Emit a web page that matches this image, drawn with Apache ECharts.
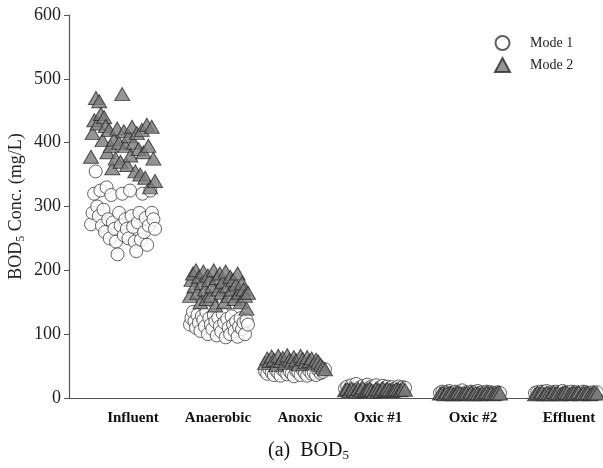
<!DOCTYPE html>
<html>
<head>
<meta charset="utf-8">
<script src="https://cdn.jsdelivr.net/npm/echarts@6/dist/echarts.min.js"></script>
<style>html,body{margin:0;padding:0;background:#fff;}#c{width:603px;height:468px;}</style>
</head>
<body>
<div id="c"></div>
<script>
const categories = ['Influent', 'Anaerobic', 'Anoxic', 'Oxic #1', 'Oxic #2', 'Effluent'];
const seriesNames = ['Mode 1', 'Mode 2'];
const yTicks = [0, 100, 200, 300, 400, 500, 600];

// Mode 1 (circles), one array per process stage, samples in plotting order
const mode1Influent = [272, 290, 320, 355, 300, 285, 325, 270, 295, 260, 330, 280, 250, 318, 275, 265, 245, 225, 290, 270, 320, 255, 280, 265, 250, 325, 285, 268, 245, 230, 275, 290, 248, 320, 260, 282, 240, 270, 325, 290, 280, 265];
const mode1Anaerobic = [115, 125, 135, 120, 110, 130, 118, 105, 128, 122, 112, 135, 100, 125, 115, 108, 130, 120, 98, 126, 112, 104, 132, 118, 95, 124, 110, 100, 128, 115, 105, 120, 96, 112, 125, 108, 118, 100, 122, 115];
const mode1Anoxic = [42, 38, 45, 40, 36, 43, 39, 35, 44, 41, 37, 42, 38, 34, 43, 40, 36, 44, 39, 35, 42, 38, 40, 36, 43, 39, 41, 45];
const mode1Oxic1 = [15, 18, 12, 20, 16, 22, 14, 17, 19, 13, 21, 16, 18, 15, 20, 14, 17, 19, 16, 18, 15, 17, 14, 16, 18, 15, 17, 16];
const mode1Oxic2 = [8, 10, 7, 9, 11, 8, 7, 10, 9, 8, 12, 7, 9, 8, 10, 7, 9, 11, 8, 9, 7, 10, 8, 9, 7, 8, 9, 8];
const mode1Effluent = [8, 9, 7, 10, 8, 11, 7, 9, 8, 10, 7, 9, 11, 8, 9, 7, 10, 8, 9, 8, 7, 10, 9, 8, 7, 9, 8, 9];

// Mode 2 (triangles)
const mode2Influent = [378, 415, 435, 470, 430, 465, 445, 404, 440, 426, 385, 420, 395, 360, 405, 375, 422, 400, 370, 476, 418, 395, 365, 410, 380, 425, 400, 355, 415, 390, 350, 420, 385, 345, 428, 395, 330, 425, 375, 340];
const mode2Anaerobic = [160, 185, 195, 175, 200, 165, 190, 150, 180, 198, 170, 155, 192, 185, 160, 175, 200, 145, 188, 170, 195, 165, 182, 150, 198, 175, 160, 190, 170, 185, 155, 178, 195, 165, 150, 180, 170, 160, 140, 165];
const mode2Anoxic = [55, 62, 58, 65, 60, 52, 66, 58, 63, 55, 67, 60, 57, 64, 59, 53, 66, 61, 56, 64, 58, 62, 54, 60, 57, 52, 48, 45];
const mode2Oxic1 = [12, 14, 11, 15, 13, 10, 14, 12, 16, 11, 13, 15, 12, 10, 14, 13, 11, 15, 12, 14, 13, 11, 12, 14, 13, 12, 15, 13];
const mode2Oxic2 = [7, 8, 6, 9, 7, 8, 6, 7, 9, 8, 6, 7, 8, 7, 9, 6, 8, 7, 6, 8, 7, 9, 7, 8, 6, 7, 8, 7];
const mode2Effluent = [6, 8, 7, 9, 6, 8, 7, 6, 9, 7, 8, 6, 7, 9, 8, 6, 7, 8, 7, 9, 6, 8, 7, 8, 6, 7, 8, 7];

const mode1 = [mode1Influent, mode1Anaerobic, mode1Anoxic, mode1Oxic1, mode1Oxic2, mode1Effluent];
const mode2 = [mode2Influent, mode2Anaerobic, mode2Anoxic, mode2Oxic1, mode2Oxic2, mode2Effluent];

// layout: horizontal spread of each stage's samples on the x axis (axis units)
const spreadStart = [22, 121, 196, 276, 371, 466];
const spreadEnd = [86, 179, 256, 336, 431, 528];
const labelPos = [64, 149, 231, 309, 404, 500];

function build(groups) {
  const out = [];
  groups.forEach((vals, c) => {
    const n = vals.length;
    vals.forEach((v, i) => {
      out.push([spreadStart[c] + i * (spreadEnd[c] - spreadStart[c]) / (n - 1), v]);
    });
  });
  return out;
}

const serif = '"Liberation Serif", "DejaVu Serif", serif';
const chart = echarts.init(document.getElementById('c'), null, { renderer: 'canvas' });
chart.setOption({
  animation: false,
  backgroundColor: '#fff',
  grid: { left: 69, right: 0, top: 15, bottom: 70, containLabel: false, outerBoundsMode: 'none' },
  title: {
    text: '{a|(a)  BOD}{s|5}',
    left: 263,
    top: 434,
    textStyle: {
      rich: {
        a: { fontFamily: serif, fontSize: 20, fontWeight: 'normal', color: '#111' },
        s: { fontFamily: serif, fontSize: 13, fontWeight: 'normal', color: '#111', verticalAlign: 'bottom', padding: [10, 0, 0, 0] }
      }
    }
  },
  legend: {
    orient: 'vertical',
    left: 489,
    top: 30,
    itemWidth: 15,
    itemHeight: 14,
    itemGap: 6,
    textStyle: { fontFamily: serif, fontSize: 14, color: '#222', padding: [0, 0, 0, 15] },
    data: seriesNames
  },
  xAxis: {
    type: 'value',
    min: 0,
    max: 534,
    splitLine: { show: false },
    axisTick: { show: false },
    axisLine: { lineStyle: { color: '#555', width: 1.2 } },
    axisLabel: {
      customValues: labelPos,
      formatter: (v) => categories[labelPos.indexOf(v)] || '',
      fontFamily: serif,
      fontWeight: 'bold',
      fontSize: 15,
      color: '#111',
      margin: 13
    }
  },
  yAxis: {
    type: 'value',
    min: yTicks[0],
    max: yTicks[yTicks.length - 1],
    interval: 100,
    splitLine: { show: false },
    axisLine: { show: true, lineStyle: { color: '#555', width: 1.2 } },
    axisTick: { show: true, inside: false, length: 5, lineStyle: { color: '#555' } },
    axisLabel: { fontFamily: serif, fontSize: 18, color: '#222', margin: 8 },
    name: '{a|BOD}{s|5}{a| Conc. (mg/L)}',
    nameLocation: 'middle',
    nameGap: 42,
    nameMoveOverlap: false,
    nameRotate: 90,
    nameTextStyle: {
      rich: {
        a: { fontFamily: serif, fontSize: 18, color: '#222' },
        s: { fontFamily: serif, fontSize: 12, color: '#222', verticalAlign: 'bottom', padding: [9, 0, 0, 0] }
      }
    }
  },
  series: [
    {
      name: seriesNames[0],
      type: 'scatter',
      symbol: 'circle',
      symbolSize: 13,
      itemStyle: { color: '#ffffff', borderColor: '#3a3a3a', borderWidth: 1 },
      data: build(mode1),
      z: 2
    },
    {
      name: seriesNames[1],
      type: 'scatter',
      symbol: 'triangle',
      symbolSize: [15, 13],
      itemStyle: { color: '#7a7a7a', borderColor: '#2a2a2a', borderWidth: 1 },
      data: build(mode2),
      z: 3
    }
  ]
});
</script>
</body>
</html>
